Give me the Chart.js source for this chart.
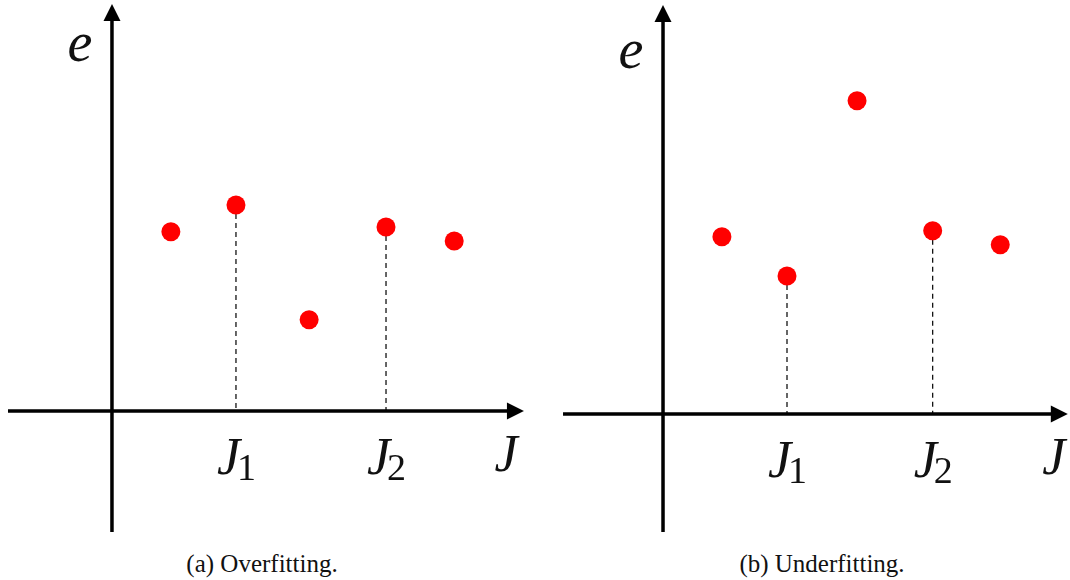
<!DOCTYPE html>
<html>
<head>
<meta charset="utf-8">
<script src="https://cdn.jsdelivr.net/npm/chart.js@4.4.1/dist/chart.umd.min.js"></script>
<style>
  html, body { margin: 0; padding: 0; background: #fff; }
  #wrap { position: relative; width: 1070px; height: 580px; overflow: hidden; }
  canvas { position: absolute; top: 0; }
  #cvA { left: 0; }
  #cvB { left: 535px; }
  .cap {
    position: absolute; top: 550px; width: 400px; text-align: center;
    font-family: 'Liberation Serif', 'DejaVu Serif', serif; font-size: 25px; color: #111;
  }
</style>
</head>
<body>
<div id="wrap">
  <canvas id="cvA" width="535" height="545"></canvas>
  <canvas id="cvB" width="535" height="545"></canvas>
  <div class="cap" style="left:62px">(a) Overfitting.</div>
  <div class="cap" style="left:622px">(b) Underfitting.</div>
</div>
<script>
  /* ── sample points (model complexity J vs error e) ── */
  const overX  = [0.95, 2.0, 3.18, 4.42, 5.52];
  const overY  = [4.48, 5.15, 2.28, 4.60, 4.25];
  const underX = [0.95, 2.0, 3.13, 4.35, 5.44];
  const underY = [4.43, 3.45, 7.83, 4.58, 4.23];

  // points that get a dashed drop line and a J_k label under the axis
  const markedIdx  = [1, 3];
  const markedSubs = ['1', '2'];
  const axisLabelX = 'J';
  const axisLabelY = 'e';

  const MATH = "'Liberation Serif', 'DejaVu Serif', serif";

  /* ── axes, arrows, drop lines, labels ── */
  const axesPlugin = {
    id: 'axes',
    beforeDatasetsDraw(chart, args, o) {
      const c = chart.ctx, xs = chart.scales.x, ys = chart.scales.y;
      const x0 = xs.getPixelForValue(0), y0 = ys.getPixelForValue(0);
      const xL = xs.getPixelForValue(o.xFrom), xR = xs.getPixelForValue(o.xTo);
      const yB = ys.getPixelForValue(o.yFrom), yT = ys.getPixelForValue(o.yTo);
      const ds = chart.data.datasets[0].data;

      c.save();
      // dashed drops from the marked points
      c.strokeStyle = '#000';
      c.lineWidth = 1.2;
      c.setLineDash([5, 4]);
      markedIdx.forEach(i => {
        const px = xs.getPixelForValue(ds[i].x);
        c.beginPath();
        c.moveTo(px, ys.getPixelForValue(ds[i].y));
        c.lineTo(px, y0);
        c.stroke();
      });
      c.setLineDash([]);

      // axis lines
      c.lineWidth = 3.5;
      c.beginPath();
      c.moveTo(xL, y0); c.lineTo(xR - 14, y0);
      c.moveTo(x0, yB); c.lineTo(x0, yT + 14);
      c.stroke();

      // arrow heads
      c.fillStyle = '#000';
      c.beginPath();
      c.moveTo(xR, y0); c.lineTo(xR - 17, y0 - 8.5); c.lineTo(xR - 17, y0 + 8.5);
      c.closePath(); c.fill();
      c.beginPath();
      c.moveTo(x0, yT); c.lineTo(x0 - 8.5, yT + 17); c.lineTo(x0 + 8.5, yT + 17);
      c.closePath(); c.fill();

      // tick labels J_1, J_2
      c.fillStyle = '#111';
      c.textBaseline = 'alphabetic';
      markedIdx.forEach((i, k) => {
        const px = xs.getPixelForValue(ds[i].x);
        c.font = 'italic 52px ' + MATH;
        const wJ = c.measureText(axisLabelX).width;
        c.font = '38px ' + MATH;
        const wS = c.measureText(markedSubs[k]).width;
        const left = px - (wJ + wS) / 2 + 2;
        c.font = 'italic 52px ' + MATH;
        c.textAlign = 'left';
        c.fillText(axisLabelX, left, y0 + 63);
        c.font = '38px ' + MATH;
        c.fillText(markedSubs[k], left + wJ - 3, y0 + 69);
      });

      // axis names
      c.font = 'italic 52px ' + MATH;
      c.textAlign = 'center';
      c.fillText(axisLabelX, xR - 18 + o.jDx, y0 + 60);
      c.font = 'italic 56px ' + MATH;
      c.fillText(axisLabelY, x0 - 32, yT + 55 + o.eDy);
      c.restore();
    }
  };

  function makePanel(id, xs, ys, box) {
    new Chart(document.getElementById(id), {
      type: 'scatter',
      data: {
        datasets: [{
          data: xs.map((x, i) => ({ x: x, y: ys[i] })),
          backgroundColor: '#ff0000',
          borderWidth: 0,
          pointRadius: 9.5,
          pointHoverRadius: 9.5
        }]
      },
      options: {
        responsive: false,
        animation: false,
        events: [],
        layout: { padding: 0, autoPadding: false },
        plugins: {
          legend: { display: false },
          tooltip: { enabled: false },
          axes: box
        },
        scales: {
          x: { type: 'linear', display: false, min: box.xMin, max: box.xMax },
          y: { type: 'linear', display: false, min: box.yMin, max: box.yMax }
        }
      },
      plugins: [axesPlugin]
    });
  }

  makePanel('cvA', overX, overY, {
    xMin: -1.806, xMax: 6.823, yMin: -3.35, yMax: 10.275,
    xFrom: -1.677, xTo: 6.645, yFrom: -3.025, yTo: 10.175,
    eDy: 2, jDx: 0
  });
  makePanel('cvB', underX, underY, {
    xMin: -2.065, xMax: 6.565, yMin: -3.275, yMax: 10.35,
    xFrom: -1.613, xTo: 6.53, yFrom: -2.95, yTo: 10.225,
    eDy: 8, jDx: 4
  });
</script>
</body>
</html>
